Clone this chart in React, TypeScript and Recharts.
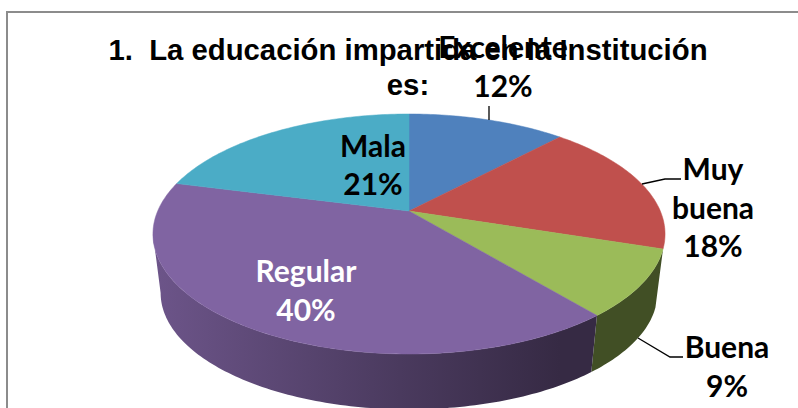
import React from "react";
import { PieChart, Pie } from "recharts";

const categories = ["Excelente", "Muy buena", "Buena", "Regular", "Mala"];
const values = [12, 18, 9, 40, 21];
const colors = ["#4f81bd", "#c0504d", "#9bbb59", "#8064a2", "#4bacc6"];
const titleLines = ["1.  La educación impartida en la Institución", "es:"];
const rows = categories.map((name, i) => ({ name, value: values[i], fill: colors[i] }));

// Label layout (one entry per slice, in slice order)
const labelLayout = [
  { x: 503, ys: [58, 97], lines: ["Excelente"], color: "#000", leader: "M489 120 L489 106" },
  { x: 713, ys: [180, 219, 257], lines: ["Muy", "buena"], color: "#000", leader: "M642 184 L665 179 L681 179" },
  { x: 727, ys: [358, 397], lines: ["Buena"], color: "#000", leader: "M638 338 L670 357 L683 357" },
  { x: 306, ys: [282, 321], lines: ["Regular"], color: "#fff", leader: "" },
  { x: 373, ys: [157, 195], lines: ["Mala"], color: "#000", leader: "" },
];

// 3D perspective of the disc
const K = 0.1917;
const SQUASH = 0.46;
const DEPTH = 59;
const TAPER = 0.97;
const ELLIPSE_DY = 23;
const WALL_FROM = 108;
const WALL_TO = 259;
const SHADE = [
  { x: 150, f: 0.85 },
  { x: 400, f: 0.58 },
  { x: 560, f: 0.42 },
  { x: 670, f: 0.42 },
];

const shadeHex = (hex: string, f: number) => {
  const n = parseInt(hex.slice(1), 16);
  const c = [(n >> 16) & 255, (n >> 8) & 255, n & 255].map((v) => Math.round(v * f));
  return `rgb(${c.join(",")})`;
};

function Slice(props: any) {
  const { cx, cy, outerRadius, startAngle, endAngle, fill, index } = props;
  const top = (deg: number) => {
    const t = (deg * Math.PI) / 180;
    const u = Math.sin(t);
    const v = Math.cos(t);
    const w = 1 + K * v;
    return [cx + (outerRadius * u) / w, cy - (outerRadius * SQUASH * v) / w];
  };
  const low = (deg: number) => {
    const [x, y] = top(deg);
    const ec = cy + ELLIPSE_DY;
    return [cx + (x - cx) * TAPER, ec + (y - ec) * TAPER + DEPTH];
  };
  const a = 90 - startAngle;
  const b = 90 - endAngle;
  const sample = (f: (d: number) => number[], from: number, to: number) => {
    const n = Math.max(2, Math.ceil(Math.abs(to - from)));
    return Array.from({ length: n + 1 }, (_, i) => f(from + ((to - from) * i) / n));
  };
  const toPath = (pts: number[][]) => pts.map((p, i) => `${i ? "L" : "M"}${p[0].toFixed(2)} ${p[1].toFixed(2)}`).join(" ");
  const topPath = `M${cx} ${cy} ` + toPath(sample(top, a, b)).replace(/^M/, "L") + " Z";
  const wa = Math.max(a, WALL_FROM);
  const wb = Math.min(b, WALL_TO);
  const hasWall = wb > wa;
  const gid = `wall-${index}`;
  const color = fill;
  return (
    <g>
      {hasWall && (
        <>
          <defs>
            <linearGradient id={gid} gradientUnits="userSpaceOnUse" x1={SHADE[0].x} y1={0} x2={SHADE[3].x} y2={0}>
              {SHADE.map((s) => (
                <stop
                  key={s.x}
                  offset={(s.x - SHADE[0].x) / (SHADE[3].x - SHADE[0].x)}
                  stopColor={shadeHex(color, s.f)}
                />
              ))}
            </linearGradient>
          </defs>
          <path
            d={toPath([...sample(top, wa, wb), ...sample(low, wb, wa)]) + " Z"}
            fill={`url(#${gid})`}
          />
        </>
      )}
      <path d={topPath} fill={color} stroke={color} strokeWidth={0.5} />
    </g>
  );
}

const labelFont = "Lato, Carlito, sans-serif";

function SliceLabel(props: any) {
  const { index, value } = props;
  const l = labelLayout[index];
  const text = [...l.lines, `${value}%`];
  return (
    <g>
      {l.leader && <path d={l.leader} fill="none" stroke="#000" strokeWidth={1.3} />}
      {text.map((t, i) => (
        <text
          key={i}
          x={l.x}
          y={l.ys[i]}
          textAnchor="middle"
          fontFamily={labelFont}
          fontWeight={700}
          fontSize={30}
          fill={l.color}
        >
          {t}
        </text>
      ))}
    </g>
  );
}

export default function App() {
  return (
    <div style={{ position: "absolute", left: 0, top: 0, width: 798, height: 408, overflow: "hidden", background: "#fff" }}>
      <div
        style={{
          position: "absolute",
          left: 6,
          top: 11,
          width: 900,
          height: 600,
          border: "2px solid #8c8c8c",
        }}
      />
      <PieChart width={798} height={408} margin={{ top: 0, right: 0, bottom: 0, left: 0 }} style={{ position: "absolute", left: 0, top: 0 }}>
        <text x={408} y={60} textAnchor="middle" fontFamily="'Liberation Sans', Arial, sans-serif" fontWeight={700} fontSize={29.3} fill="#000" xmlSpace="preserve">
          {titleLines[0]}
        </text>
        <text x={408} y={95} textAnchor="middle" fontFamily="'Liberation Sans', Arial, sans-serif" fontWeight={700} fontSize={29.3} fill="#000">
          {titleLines[1]}
        </text>
        <Pie
          data={rows}
          dataKey="value"
          nameKey="name"
          cx={409}
          cy={211}
          outerRadius={251.3}
          startAngle={90}
          endAngle={-270}
          stroke="none"
          isAnimationActive={false}
          shape={Slice}
          label={SliceLabel}
          labelLine={false}
        />
      </PieChart>
    </div>
  );
}
